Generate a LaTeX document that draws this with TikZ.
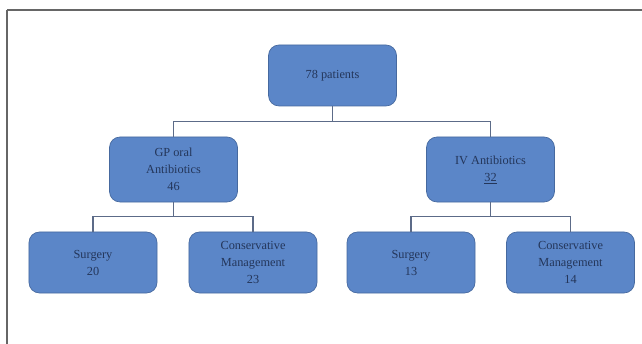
\documentclass[tikz,border=0pt]{standalone}
\usepackage{fontspec}
\setmainfont{Liberation Serif}
\usepackage{xcolor}
\usepackage{tikz}

\definecolor{boxfill}{HTML}{5B86C8}
\definecolor{boxline}{HTML}{46699F}
\definecolor{boxtext}{HTML}{24365A}
\definecolor{linkcol}{HTML}{5C6B88}

\tikzset{
  boxnode/.style={draw=boxline, fill=boxfill, rounded corners=9pt, line width=0.6pt,
    minimum width=3.84cm, minimum height=1.83cm, align=center, text=boxtext,
    font=\fontsize{10.5}{14.5}\selectfont},
  link/.style={draw=linkcol, line width=1.1pt}
}

\begin{document}
\begin{tikzpicture}[x=0.03cm, y=-0.03cm]
\useasboundingbox (0,0) rectangle (642,344);
\draw[gray!80!black, line width=0.9pt] (7,10) -- (660,10);
\draw[gray!80!black, line width=0.9pt] (7,10) -- (7,360);

\node[boxnode] (all) at (332.5,75.5) {78 patients};
\node[boxnode, minimum height=1.95cm] (gp) at (173.5,169.5) {GP oral\\Antibiotics\\46};
\node[boxnode, minimum height=1.95cm] (iv) at (490.5,169.5) {IV Antibiotics\\\underline{32}};
\node[boxnode] (surgl) at (93,262.5) {Surgery\\20};
\node[boxnode] (consl) at (253,262.5) {Conservative\\Management\\23};
\node[boxnode] (surgr) at (411,262.5) {Surgery\\13};
\node[boxnode] (consr) at (570.5,262.5) {Conservative\\Management\\14};

\draw[link] (all.south) -- ++(0,15) -| (gp.north);
\draw[link] (all.south) -- ++(0,15) -| (iv.north);
\draw[link] (gp.south) -- ++(0,14) -| (surgl.north);
\draw[link] (gp.south) -- ++(0,14) -| (consl.north);
\draw[link] (iv.south) -- ++(0,14) -| (surgr.north);
\draw[link] (iv.south) -- ++(0,14) -| (consr.north);
\end{tikzpicture}
\end{document}
